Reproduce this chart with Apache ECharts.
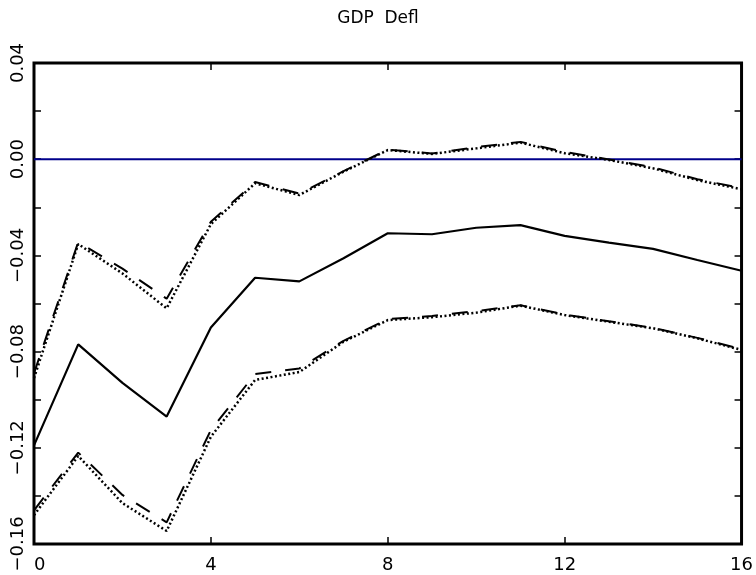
<!DOCTYPE html>
<html>
<head>
<meta charset="utf-8">
<script src="https://cdn.jsdelivr.net/npm/echarts@6/dist/echarts.min.js"></script>
<style>
  html, body { margin: 0; padding: 0; background: #fff; }
  #chart { width: 756px; height: 575px; }
</style>
</head>
<body>
<div id="chart"></div>
<script>
// Impulse response of the GDP deflator: median with two sets of error bands
const horizons = [0, 1, 2, 3, 4, 5, 6, 7, 8, 9, 10, 11, 12, 13, 14, 15, 16];
const median   = [-0.119, -0.077, -0.093, -0.107, -0.070, -0.0493, -0.0508, -0.0412, -0.0308, -0.0312, -0.0285, -0.0274, -0.0319, -0.0347, -0.0373, -0.0419, -0.0464];
const upperDot = [-0.091, -0.0353, -0.0475, -0.0620, -0.027, -0.0100, -0.0149, -0.0052, 0.0038, 0.0022, 0.0045, 0.0069, 0.0025, -0.0003, -0.0038, -0.0087, -0.0125];
const upperDash= [-0.089, -0.0345, -0.0455, -0.0580, -0.026, -0.0095, -0.0143, -0.0050, 0.0040, 0.0024, 0.0050, 0.0072, 0.0030, -0.0001, -0.0034, -0.0083, -0.0121];
const lowerDot = [-0.148, -0.1234, -0.1430, -0.1546, -0.1154, -0.0918, -0.0885, -0.0759, -0.0669, -0.0657, -0.0638, -0.0609, -0.0648, -0.0676, -0.0703, -0.0745, -0.0793];
const lowerDash= [-0.146, -0.1220, -0.1396, -0.1510, -0.1126, -0.0893, -0.0870, -0.0755, -0.0665, -0.0652, -0.0632, -0.0607, -0.0646, -0.0674, -0.0701, -0.0743, -0.0790];
const zeroLine = [0, 0];
const xTicks = [0, 4, 8, 12, 16];
const yTicks = [-0.16, -0.12, -0.08, -0.04, 0.00, 0.04];

const pairs = (xs, ys) => xs.map((x, i) => [x, ys[i]]);

const chart = echarts.init(document.getElementById('chart'));
const font = '"DejaVu Sans", Arial, sans-serif';
const tick = { show: true, inside: true, length: 7, lineStyle: { color: '#000', width: 1.5 } };

chart.setOption({
  animation: false,
  title: {
    text: 'GDP  Defl',
    left: 'center',
    top: 5,
    textStyle: { fontFamily: font, fontSize: 17, fontWeight: 'normal', color: '#000' }
  },
  grid: {
    left: 34, right: 11, top: 63, bottom: 31,
    show: true, borderColor: '#000', borderWidth: 3, backgroundColor: 'transparent'
  },
  xAxis: [{
    type: 'value', min: 0, max: 16, interval: 4, position: 'bottom',
    axisLine: { show: false, onZero: false },
    axisTick: tick,
    axisLabel: {
      fontFamily: font, fontSize: 18, color: '#000', margin: 12,
      alignMinLabel: 'left',
      formatter: v => xTicks.includes(v) ? String(v) : ''
    },
    splitLine: { show: false }
  }, {
    type: 'value', min: 0, max: 16, interval: 4, position: 'top',
    axisLine: { show: false, onZero: false },
    axisTick: tick,
    axisLabel: { show: false },
    splitLine: { show: false }
  }],
  yAxis: [{
    type: 'value', min: -0.16, max: 0.04, interval: 0.02, position: 'left',
    axisLine: { show: false, onZero: false },
    axisTick: tick,
    axisLabel: {
      fontFamily: font, fontSize: 18, color: '#000', rotate: 90, margin: 7,
      formatter: v => {
        const hit = yTicks.find(t => Math.abs(t - v) < 1e-9);
        return hit === undefined ? '' : hit.toFixed(2).replace('-', '\u2212');
      }
    },
    splitLine: { show: false }
  }, {
    type: 'value', min: -0.16, max: 0.04, interval: 0.02, position: 'right',
    axisLine: { show: false, onZero: false },
    axisTick: tick,
    axisLabel: { show: false },
    splitLine: { show: false }
  }],
  series: [
    {
      type: 'line', data: pairs([0, 16], zeroLine), symbol: 'none',
      lineStyle: { color: '#00008b', width: 2 }, z: 1
    },
    {
      type: 'line', data: pairs(horizons, median), symbol: 'none',
      lineStyle: { color: '#000', width: 2.2 }
    },
    {
      type: 'line', data: pairs(horizons, upperDash), symbol: 'none',
      lineStyle: { color: '#000', width: 2, type: [16, 14] }
    },
    {
      type: 'line', data: pairs(horizons, lowerDash), symbol: 'none',
      lineStyle: { color: '#000', width: 2, type: [16, 14] }
    },
    {
      type: 'line', data: pairs(horizons, upperDot), symbol: 'none',
      lineStyle: { color: '#000', width: 2.5, type: [2, 2.5] }
    },
    {
      type: 'line', data: pairs(horizons, lowerDot), symbol: 'none',
      lineStyle: { color: '#000', width: 2.5, type: [2, 2.5] }
    }
  ]
});
</script>
</body>
</html>
